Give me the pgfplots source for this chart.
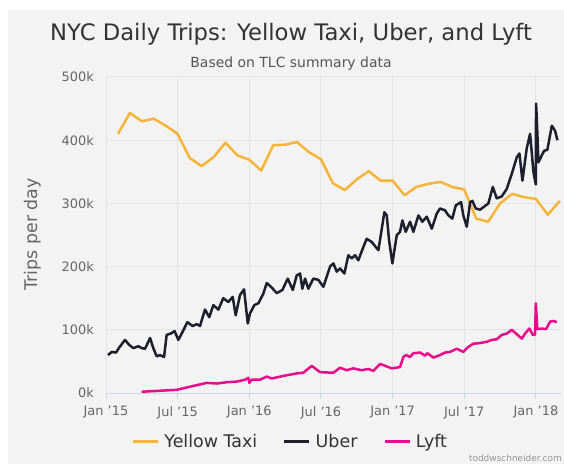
\documentclass[border=0pt]{standalone}
\usepackage{fontspec}
\setmainfont{DejaVu Sans}
\usepackage{pgfplots}
\pgfplotsset{compat=1.18}
\definecolor{bgc}{HTML}{F3F3F3}
\definecolor{gridc}{HTML}{E4E4E4}
\definecolor{axisc}{HTML}{CCD6EB}
\definecolor{titlec}{HTML}{333333}
\definecolor{subc}{HTML}{555555}
\definecolor{tickc}{HTML}{666666}
\definecolor{taxic}{HTML}{F6B53A}
\definecolor{uberc}{HTML}{1E1E2E}
\definecolor{lyftc}{HTML}{EA0B8C}
\begin{document}
\begin{tikzpicture}
\useasboundingbox (0bp,0bp) rectangle (564bp,464bp);
\fill[white] (0bp,0bp) rectangle (564bp,464bp);
\fill[bgc] (8bp,0bp) rectangle (564bp,454bp);
\node[anchor=base, font=\fontsize{22.8}{26}\selectfont, text=titlec, inner sep=0pt] at (291bp,423bp) {NYC Daily Trips: Yellow Taxi, Uber, and Lyft};
\node[anchor=base, font=\fontsize{14}{16}\selectfont, text=subc, inner sep=0pt] at (291bp,396.5bp) {Based on TLC summary data};
\node[anchor=base east, font=\fontsize{9}{11}\selectfont, text=tickc!70, inner sep=0pt] at (562bp,2.5bp) {toddwschneider.com};
\begin{axis}[
  at={(106bp,71bp)}, anchor=south west,
  width=455bp, height=316bp, scale only axis,
  xmin=0, xmax=38.1, ymin=0, ymax=500,
  xtick={0,6,12,18,24,30,36},
  xticklabels={Jan '15,Jul '15,Jan '16,Jul '16,Jan '17,Jul '17,Jan '18},
  ytick={0,100,200,300,400,500},
  yticklabels={0k,100k,200k,300k,400k,500k},
  /pgf/number format/assume math mode=true,
  tick label style={font=\fontsize{13}{15}\selectfont, text=tickc},
  xticklabel style={inner sep=0pt, anchor=north, yshift=-7bp},
  yticklabel style={inner sep=0pt, anchor=east, xshift=-6bp},
  grid=major, major grid style={draw=gridc, line width=1bp},
  axis x line*=bottom, axis y line*=left,
  x axis line style={draw=axisc, line width=1bp, -},
  y axis line style={draw=none},
  xtick style={draw=axisc, line width=1bp},
  ytick style={draw=none},
  major tick length=6bp, tick align=outside,
  ylabel={Trips per day},
  ylabel style={at={(axis description cs:-0.1604,0.502)}, anchor=center, font=\fontsize{17.5}{20}\selectfont, text=tickc, inner sep=0pt},
  legend columns=3,
  legend image code/.code={\draw[line width=2.5bp] (0bp,0bp) -- (25bp,0bp);},
  legend style={at={(axis description cs:0.0565,-0.154)}, anchor=west, draw=none, fill=none,
    inner sep=0pt, font=\fontsize{17.5}{20}\selectfont, text=titlec,
    nodes={inner sep=0pt},
    /tikz/every odd column/.append style={column sep=5bp},
    /tikz/every even column/.append style={column sep=26bp}},
  every axis plot/.append style={line width=2.5bp, line join=round},
]
\addplot[taxic] coordinates {
(1,410)(2,443)(3,430)(4,434)(5,423)(6,410)(7,372)(8,359)(9,373)(10,396)
(11,376)(12,369)(13,352)(14,392)(15,393)(16,397)(17,381)(18,370)(19,332)(20,321)
(21,338)(22,351)(23,336)(24,336)(25,313)(26,326)(27,331)(28,334)(29,326)(30,322)
(31,276)(32,271)(33,300)(34,315)(35,310)(36,307)(37,282)(38,304)};
\addlegendentry{Yellow Taxi}
\addplot[uberc] coordinates {
(0.17,60)(0.48,65)(0.84,64)(1.11,72)(1.59,84)(1.95,76)(2.29,71)(2.71,74)(2.99,71)(3.27,70)
(3.69,87)(3.96,71)(4.25,58)(4.52,60)(4.86,57)(5.08,92)(5.42,94)(5.74,98)(6.06,84)(6.42,97)
(6.81,112)(7.26,106)(7.60,109)(7.87,106)(8.29,132)(8.65,120)(8.99,139)(9.41,132)(9.82,150)(10.24,144)
(10.61,152)(10.86,123)(11.22,155)(11.56,164)(11.87,110)(12.06,126)(12.42,139)(12.76,142)(13.17,157)(13.46,174)
(13.82,168)(14.30,158)(14.77,163)(15.22,181)(15.64,163)(15.97,186)(16.25,189)(16.44,165)(16.67,181)(16.94,165)
(17.36,181)(17.78,179)(18.2,168)(18.76,200)(19.04,205)(19.32,192)(19.6,197)(19.96,189)(20.29,218)(20.58,213)
(20.85,218)(21.13,210)(21.55,231)(21.83,244)(22.25,239)(22.81,226)(23.31,286)(23.51,281)(23.7,242)(23.98,205)
(24.35,250)(24.62,255)(24.82,273)(25.1,255)(25.46,271)(25.74,255)(26.16,281)(26.49,271)(26.86,279)(27.28,260)
(27.7,284)(27.97,292)(28.39,289)(28.67,281)(29.0,276)(29.29,297)(29.73,302)(29.92,281)(30.21,263)(30.49,302)
(30.68,304)(30.96,292)(31.32,290)(31.6,294)(32.02,300)(32.39,326)(32.72,308)(33.14,311)(33.56,323)(33.98,347)
(34.4,373)(34.62,379)(34.87,336)(35.23,387)(35.51,410)(35.65,381)(35.79,350)(35.99,330)(36.01,458)(36.07,436)
(36.21,365)(36.49,376)(36.68,383)(36.96,385)(37.33,423)(37.6,415)(37.8,400)};
\addlegendentry{Uber}
\addplot[lyftc] coordinates {
(2.99,2)(5.92,5)(7.04,10)(8.43,16)(9.27,15)(10.1,17)(10.95,18)(11.64,21)(11.92,24)(12.0,16)
(12.2,21)(12.9,21)(13.46,26)(13.88,23)(14.85,27)(15.97,31)(16.52,32)(17.23,43)(17.92,33)(19.04,32)
(19.6,40)(20.16,36)(20.7,39)(21.4,36)(21.97,38)(22.39,35)(22.95,46)(23.37,43)(23.93,39)(24.62,41)
(24.9,57)(25.13,60)(25.46,57)(25.74,63)(26.3,64)(26.72,59)(26.91,63)(27.41,56)(27.97,60)(28.39,64)
(28.81,65)(29.37,70)(29.92,65)(30.34,73)(30.76,78)(31.32,79)(31.88,81)(32.3,84)(32.72,85)(33.14,92)
(33.56,94)(33.98,100)(34.34,94)(34.82,86)(35.09,94)(35.45,102)(35.74,92)(35.93,92)(35.99,142)(36.12,101)
(36.49,102)(36.85,101)(37.19,113)(37.46,114)(37.75,112)};
\addlegendentry{Lyft}
\end{axis}
\end{tikzpicture}
\end{document}
